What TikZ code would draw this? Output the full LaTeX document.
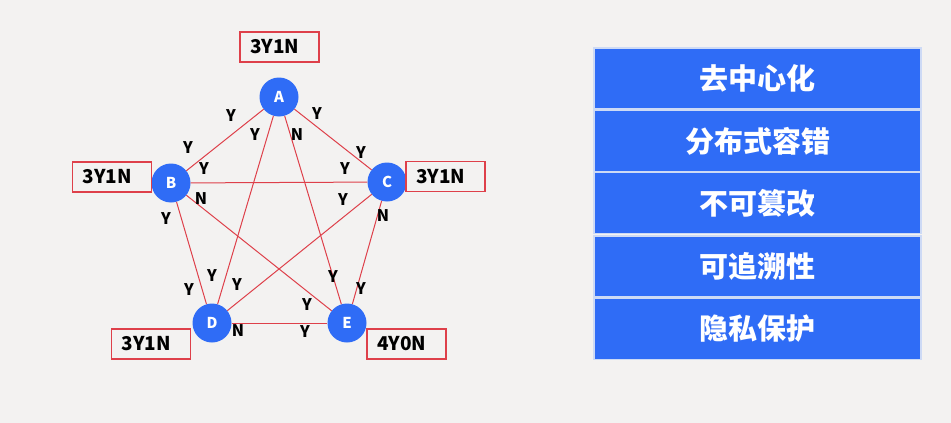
\documentclass[tikz,border=0pt]{standalone}
\usepackage{fontspec}
\setmainfont{Noto Sans CJK SC}

\definecolor{peerblue}{RGB}{47,108,246}
\definecolor{linkred}{RGB}{222,64,74}
\definecolor{paper}{RGB}{243,242,241}
\definecolor{rowline}{RGB}{205,218,245}

\begin{document}
\begin{tikzpicture}[x=1pt, y=-1pt,
    peer/.style={circle, fill=peerblue, minimum size=39pt, inner sep=0pt, text=white, font=\bfseries\fontsize{15}{15}\selectfont},
    link/.style={draw=linkred, line width=1pt},
    vote/.style={inner sep=0pt, font=\bfseries\fontsize{16}{16}\selectfont},
    tally/.style={draw=linkred, line width=1.2pt, text width=59pt, inner xsep=10pt, minimum height=30pt, align=left, font=\bfseries\fontsize{19}{19}\selectfont},
    feature/.style={draw=rowline, line width=1.5pt, fill=peerblue, minimum width=327pt, minimum height=61pt, text=white, font=\bfseries\fontsize{29}{29}\selectfont}
]
\fill[paper] (0,0) rectangle (951,423);

\node[peer] (A) at (279,97) {A};
\node[peer] (B) at (171,183) {B};
\node[peer] (C) at (387,182) {C};
\node[peer] (D) at (212,323) {D};
\node[peer] (E) at (347,323) {E};

\draw[link] (A) -- (B);
\draw[link] (A) -- (C);
\draw[link] (A) -- (D);
\draw[link] (A) -- (E);
\draw[link] (B) -- (C);
\draw[link] (B) -- (D);
\draw[link] (B) -- (E);
\draw[link] (C) -- (D);
\draw[link] (C) -- (E);
\draw[link] (D) -- (E);

\node[vote] (AtoB) at (231,116) {Y};
\node[vote] (AtoD) at (255,135) {Y};
\node[vote] (AtoE) at (297,135) {N};
\node[vote] (AtoC) at (317,114) {Y};
\node[vote] (BtoA) at (188,148) {Y};
\node[vote] (BtoC) at (204,169) {Y};
\node[vote] (BtoE) at (201,199) {N};
\node[vote] (BtoD) at (166,219) {Y};
\node[vote] (CtoA) at (361,153) {Y};
\node[vote] (CtoB) at (345,169) {Y};
\node[vote] (CtoD) at (343,200) {Y};
\node[vote] (CtoE) at (383,216) {N};
\node[vote] (DtoB) at (189,290) {Y};
\node[vote] (DtoA) at (212,276) {Y};
\node[vote] (DtoC) at (237,285) {Y};
\node[vote] (DtoE) at (238,331) {N};
\node[vote] (EtoA) at (333,277) {Y};
\node[vote] (EtoC) at (361,289) {Y};
\node[vote] (EtoB) at (307,305) {Y};
\node[vote] (EtoD) at (305,332) {Y};

\node[tally] (tallyA) at (279.5,47) {3Y1N};
\node[tally] (tallyB) at (112,177) {3Y1N};
\node[tally] (tallyC) at (445.5,176.5) {3Y1N};
\node[tally] (tallyD) at (151,344) {3Y1N};
\node[tally] (tallyE) at (406.5,344) {4Y0N};

\node[feature] (decentral) at (757.5,78.5) {去中心化};
\node[feature] (faulttol) at (757.5,141) {分布式容错};
\node[feature] (tamper) at (757.5,203) {不可篡改};
\node[feature] (trace) at (757.5,266.5) {可追溯性};
\node[feature] (privacy) at (757.5,329) {隐私保护};
\end{tikzpicture}
\end{document}
